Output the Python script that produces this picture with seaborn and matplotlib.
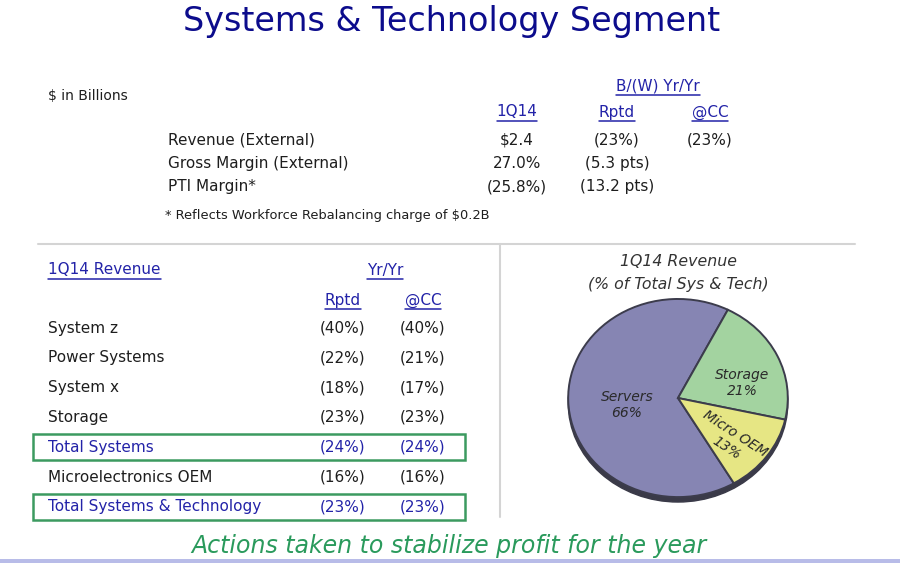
import matplotlib
matplotlib.use("Agg")
import matplotlib.pyplot as plt
import seaborn as sns
from matplotlib.patches import Rectangle, Ellipse

# top table
top_labels = ["Revenue (External)", "Gross Margin (External)", "PTI Margin*"]
top_1q14 = ["$2.4", "27.0%", "(25.8%)"]
top_rptd = ["(23%)", "(5.3 pts)", "(13.2 pts)"]
top_cc = ["(23%)", "", ""]

# bottom-left table
rev_labels = ["System z", "Power Systems", "System x", "Storage",
              "Total Systems", "Microelectronics OEM", "Total Systems & Technology"]
rev_rptd = ["(40%)", "(22%)", "(18%)", "(23%)", "(24%)", "(16%)", "(23%)"]
rev_cc = ["(40%)", "(21%)", "(17%)", "(23%)", "(24%)", "(16%)", "(23%)"]
rev_total = [False, False, False, False, True, False, True]

# pie
seg_names = ["Servers", "Storage", "Micro OEM"]
seg_share = [66, 21, 13]
seg_colors = ["#8685b3", "#a3d3a0", "#e6e684"]

sns.set_theme(style="white")
plt.rcParams['font.family'] = ['DejaVu Sans']

W, H = 900, 563
fig = plt.figure(figsize=(9, 5.63), dpi=100)
fig.patch.set_facecolor("white")
ax = fig.add_axes([0, 0, 1, 1])
ax.set_xlim(0, W)
ax.set_ylim(H, 0)
ax.axis("off")

navy = "#0c0c8c"
link = "#2323a8"
dark = "#1e1e1e"
green = "#3c9a60"

ax.text(452, 21, "Systems & Technology Segment", fontsize=24, color=navy,
        ha="center", va="center")

underlined = []

def utext(x, y, s, **kw):
    t = ax.text(x, y, s, color=link, fontsize=11, va="center", **kw)
    underlined.append(t)
    return t

# top block
ax.text(48, 96, "$ in Billions", fontsize=10, color=dark, va="center")
utext(658, 86, "B/(W) Yr/Yr", ha="center")
utext(517, 112, "1Q14", ha="center")
utext(617, 112, "Rptd", ha="center")
utext(710, 112, "@CC", ha="center")
for i, lab in enumerate(top_labels):
    y = 140 + i * 23.5
    ax.text(168, y, lab, fontsize=11, color=dark, va="center")
    ax.text(517, y, top_1q14[i], fontsize=11, color=dark, va="center", ha="center")
    ax.text(617, y, top_rptd[i], fontsize=11, color=dark, va="center", ha="center")
    if top_cc[i]:
        ax.text(710, y, top_cc[i], fontsize=11, color=dark, va="center", ha="center")
ax.text(165, 215, "* Reflects Workforce Rebalancing charge of $0.2B", fontsize=9.4,
        color=dark, va="center")

# separators
ax.plot([38, 855], [244, 244], color="#d4d4d4", lw=1.5)
ax.plot([500, 500], [244, 517], color="#d4d4d4", lw=1.5)

# bottom-left table
utext(48, 270, "1Q14 Revenue", ha="left")
utext(385, 270, "Yr/Yr", ha="center")
utext(343, 300, "Rptd", ha="center")
utext(423, 300, "@CC", ha="center")
for i, lab in enumerate(rev_labels):
    y = 328 + i * 29.8
    c = link if rev_total[i] else dark
    ax.text(48, y, lab, fontsize=11, color=c, va="center")
    ax.text(343, y, rev_rptd[i], fontsize=11, color=c, va="center", ha="center")
    ax.text(423, y, rev_cc[i], fontsize=11, color=c, va="center", ha="center")
    if rev_total[i]:
        ax.add_patch(Rectangle((33, y - 13), 432, 26, fill=False,
                               edgecolor=green, lw=1.8))

# underline headers
fig.canvas.draw()
renderer = fig.canvas.get_renderer()
inv = ax.transData.inverted()
for t in underlined:
    bb = t.get_window_extent(renderer)
    (x0, y0), (x1, y1) = inv.transform([(bb.x0, bb.y0), (bb.x1, bb.y1)])
    ax.plot([x0, x1], [y0 + 1, y0 + 1], color=link, lw=1.1)

# pie title
ax.text(678, 262, "1Q14 Revenue", fontsize=11.3, style="italic", color="#333333",
        ha="center", va="center")
ax.text(678, 285, "(% of Total Sys & Tech)", fontsize=11.3, style="italic",
        color="#333333", ha="center", va="center")

# tagline
ax.text(449, 546, "Actions taken to stabilize profit for the year", fontsize=17,
        style="italic", color="#2a9a5c", ha="center", va="center")

# bottom strip
ax.add_patch(Rectangle((0, 559), W, 4, color="#b8bce8", lw=0))

# pie axes (elliptical, 3D-ish look)
cx, cy, rx, ry = 678, 401, 112, 104
pax = fig.add_axes([(cx - rx) / W, (H - (cy + ry)) / H, 2 * rx / W, 2 * ry / H])
pax.add_patch(Ellipse((0.0, -0.05), 2.0, 2.0, color="#3a3a48", zorder=0))
wedges, _ = pax.pie(seg_share, colors=seg_colors, startangle=-59.4,
                    counterclock=False, radius=1.0,
                    wedgeprops=dict(edgecolor="#3c3c4c", linewidth=1.4))
for w in wedges:
    w.set_zorder(1)
pax.set_aspect("auto")
pax.set_xlim(-1.02, 1.02)
pax.set_ylim(-1.08, 1.02)
pax.axis("off")

lab_kw = dict(fontsize=10, style="italic", color="#2a2a2a", ha="center",
              va="center", linespacing=1.2, transform=ax.transData, zorder=5)
pax.text(627, 405, f"{seg_names[0]}\n{seg_share[0]}%", **lab_kw)
pax.text(742, 383, f"{seg_names[1]}\n{seg_share[1]}%", **lab_kw)
pax.text(731, 441, f"{seg_names[2]}\n{seg_share[2]}%", rotation=-33, **lab_kw)

fig.savefig("out.png", dpi=100)
